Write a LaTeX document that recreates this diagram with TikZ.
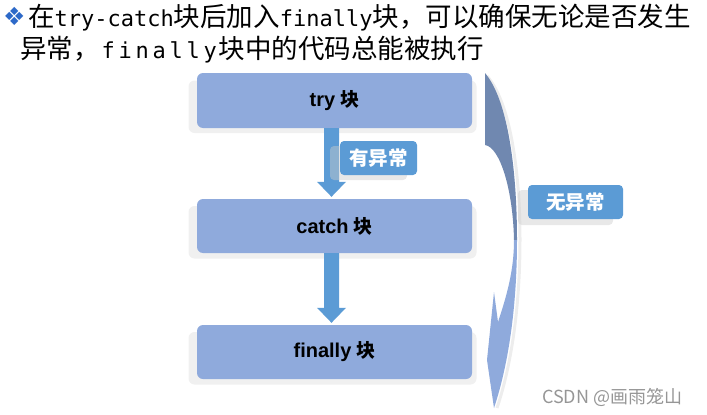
\documentclass[tikz,border=0pt]{standalone}
\usepackage{fontspec}
\setmainfont{Liberation Sans}
\newfontfamily\cjk{Noto Sans CJK SC}
\newfontfamily\mono{DejaVu Sans Mono}
\newfontfamily\dejavu{DejaVu Sans}
\usetikzlibrary{calc}
\definecolor{boxblue}{RGB}{143,170,220}
\definecolor{arrowblue}{RGB}{91,155,213}
\definecolor{darkarc}{RGB}{112,136,176}
\definecolor{bulletblue}{RGB}{45,105,200}
\definecolor{wmgray}{RGB}{150,150,150}
\newcommand\sletter[1]{\makebox[17pt][c]{#1}}
\newcommand\boxtext[2]{{\lsansb\fontsize{20}{24}\selectfont #1}\hspace{5pt}{\cjk\bfseries\fontsize{19}{24}\selectfont #2}}
\newfontfamily\lsansb{Liberation Sans Bold}
\tikzset{
  stepbox/.style={fill=boxblue, rounded corners=6pt, minimum width=275pt, minimum height=55pt, inner sep=0pt},
  shadowc/.style={fill=black!6, rounded corners=6pt},
  tag/.style={fill=arrowblue, rounded corners=4pt, text=white, inner sep=0pt, font=\cjk\bfseries\fontsize{19.5}{22}\selectfont},
  tagshadow/.style={fill=black!20, opacity=0.45, rounded corners=4pt},
  blockarrow/.style={fill=arrowblue},
}
\begin{document}
\begin{tikzpicture}[x=1pt,y=-1pt]
\useasboundingbox (0,0) rectangle (707,415);

% title
\node[anchor=base west, inner sep=0pt, text=bulletblue, font=\dejavu\fontsize{25}{28}\selectfont] (bul) at (3,25) {❖};
\node[anchor=base west, inner sep=0pt, font=\cjk\fontsize{26.5}{30}\selectfont] (line1) at (28,26)
  {在{\mono\fontsize{22}{30}\selectfont try-catch}块后加入{\mono\fontsize{22}{30}\selectfont finally}块，可以确保无论是否发生};
\node[anchor=base west, inner sep=0pt, font=\cjk\fontsize{26.5}{30}\selectfont] (line2) at (20,58)
  {异常，{\mono\fontsize{22}{30}\selectfont\sletter{f}\sletter{i}\sletter{n}\sletter{a}\sletter{l}\sletter{l}\sletter{y}}块中的代码总能被执行};

% box shadows
\coordinate (tryc) at (334.5,100.5);
\coordinate (catchc) at (334.5,226);
\coordinate (finc) at (334.5,352);
\foreach \c in {tryc,catchc,finc}{
  \fill[shadowc] ($(\c)+(-146,-20)$) rectangle ($(\c)+(142,32.5)$);
}

% curved arrow shadow
\draw[black!7, line width=3pt] (487,76) .. controls (510,102) and (520,170) .. (520,240) .. controls (520,300) and (513,360) .. (497,408);

% boxes
\node[stepbox] (try) at (tryc) {\boxtext{try}{块}};
\node[stepbox, minimum height=54pt] (catch) at (catchc) {\boxtext{catch}{块}};
\node[stepbox, minimum height=54pt] (finally) at (finc) {\boxtext{finally}{块}};

% block arrows
\coordinate (a1s) at ([xshift=-3pt]try.south);
\coordinate (a1e) at ([xshift=-3pt,yshift=2pt]catch.north);
\coordinate (a2s) at ([xshift=-3pt]catch.south);
\coordinate (a2e) at ([xshift=-3pt,yshift=2pt]finally.north);
\foreach \s/\e in {a1s/a1e,a2s/a2e}{
  \fill[blockarrow] ($(\s)+(-7.5,0)$) -- ($(\s)+(7.5,0)$) -- ($(\e)+(7.5,-15)$) -- ($(\e)+(14.5,-15)$) -- (\e)
     -- ($(\e)+(-14.5,-15)$) -- ($(\e)+(-7.5,-15)$) -- cycle;
}

% curved arrow (no exception path)
\fill[darkarc] (485,73) .. controls (508,100) and (517,170) .. (517,240) -- (514,240)
   .. controls (513,190) and (500,147) .. (485,145) -- cycle;
\fill[boxblue] (517,240) .. controls (517,300) and (510,360) .. (494,408) -- (487,360) -- (494,292) -- (498,322)
   .. controls (507,295) and (514,270) .. (514,240) -- cycle;

% tags
\coordinate (t1) at (378.5,158);
\coordinate (t2) at (575.5,202);
\fill[tagshadow] ($(t1)+(-48.5,-12)$) rectangle ($(t1)+(28.5,22)$);
\fill[tagshadow] ($(t2)+(-57.5,-12)$) rectangle ($(t2)+(37.5,23)$);
\node[tag, minimum width=77pt, minimum height=34pt] (yes) at (t1) {有异常};
\node[tag, minimum width=95pt, minimum height=34pt] (no) at (t2) {无异常};

% watermark
\node[anchor=base west, inner sep=0pt, text=wmgray, font=\cjk\fontsize{18}{20}\selectfont] (wm) at (542,403) {CSDN @画雨笼山};
\end{tikzpicture}
\end{document}
